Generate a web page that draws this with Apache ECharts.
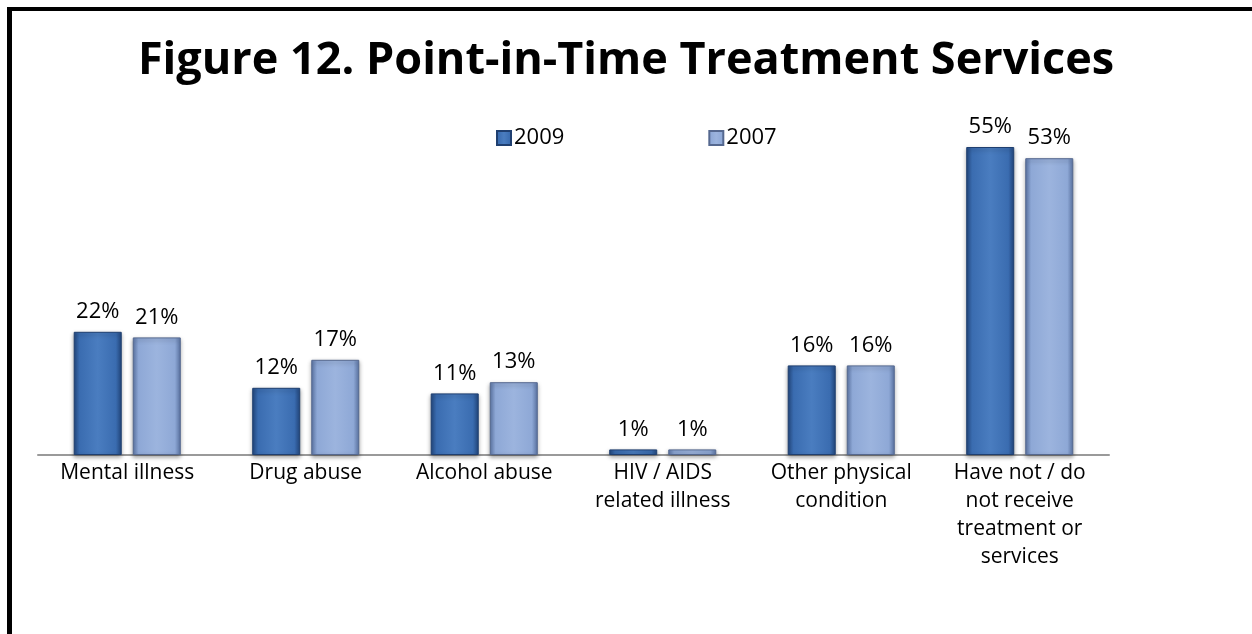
<!DOCTYPE html>
<html>
<head>
<meta charset="utf-8">
<script src="https://cdn.jsdelivr.net/npm/echarts@6/dist/echarts.min.js"></script>
<style>
  html, body { margin: 0; padding: 0; background: #fff; }
  #chart { width: 1252px; height: 634px; }
</style>
</head>
<body>
<div id="chart"></div>
<script>
// Treatment categories (line breaks follow the wrapped axis labels)
const categories = [
  'Mental illness',
  'Drug abuse',
  'Alcohol abuse',
  'HIV / AIDS\nrelated illness',
  'Other physical\ncondition',
  'Have not / do\nnot receive\ntreatment or\nservices'
];
// Percent of respondents per year
const values2009 = [22, 12, 11, 1, 16, 55];
const values2007 = [21, 17, 13, 1, 16, 53];
const seriesNames = ['2009', '2007'];

const FONT = '"Open Sans", Lato, sans-serif';

// Bevel-like shading: darker sides, lighter body
function bevel(edge, body, light) {
  return new echarts.graphic.LinearGradient(0, 0, 1, 0, [
    { offset: 0, color: edge },
    { offset: 0.12, color: body },
    { offset: 0.5, color: light },
    { offset: 0.88, color: body },
    { offset: 1, color: edge }
  ]);
}

const fill2009 = bevel('#23487f', '#3a6cb0', '#4a7dc0');
const fill2007 = bevel('#5d77a8', '#8ea8d6', '#9cb4de');

const chart = echarts.init(document.getElementById('chart'), null, { renderer: 'canvas' });

const labelStyle = {
  show: true,
  position: 'top',
  distance: 9,
  formatter: '{c}%',
  fontFamily: FONT,
  fontSize: 22,
  color: '#000'
};

chart.setOption({
  animation: false,
  backgroundColor: '#fff',
  title: {
    text: 'Figure 12. Point-in-Time Treatment Services',
    left: 'center',
    top: 34,
    textStyle: { fontFamily: FONT, fontWeight: 'bold', fontSize: 45, color: '#000' }
  },
  legend: {
    data: [
      { name: seriesNames[0], itemStyle: { color: fill2009 } },
      { name: seriesNames[1], itemStyle: { color: fill2007 } }
    ],
    top: 122,
    left: 491,
    itemWidth: 14,
    itemHeight: 14,
    itemGap: 144,
    icon: 'rect',
    textStyle: { fontFamily: FONT, fontSize: 22, color: '#000', padding: [0, 0, 0, -2] }
  },
  grid: { left: 38, right: 143, top: 147, bottom: 179, containLabel: false },
  xAxis: {
    type: 'category',
    data: categories,
    axisLine: { lineStyle: { color: '#9a9a9a', width: 2 } },
    axisTick: { show: false },
    axisLabel: {
      fontFamily: FONT,
      fontSize: 21,
      color: '#000',
      lineHeight: 28,
      margin: 4,
      interval: 0
    }
  },
  yAxis: {
    type: 'value',
    min: 0,
    max: 55,
    show: false,
    splitLine: { show: false }
  },
  series: [
    {
      name: seriesNames[0],
      type: 'bar',
      data: values2009,
      barWidth: 48,
      barGap: '23%',
      itemStyle: {
        color: fill2009,
        borderColor: '#1f3f70',
        borderWidth: 1,
        shadowColor: 'rgba(0,0,0,0.35)',
        shadowBlur: 4,
        shadowOffsetY: 2
      },
      label: labelStyle
    },
    {
      name: seriesNames[1],
      type: 'bar',
      data: values2007,
      barWidth: 48,
      itemStyle: {
        color: fill2007,
        borderColor: '#55688f',
        borderWidth: 1,
        shadowColor: 'rgba(0,0,0,0.35)',
        shadowBlur: 4,
        shadowOffsetY: 2
      },
      label: labelStyle
    }
  ],
  graphic: [
    { type: 'rect', shape: { x: 7, y: 7, width: 1245, height: 4 }, style: { fill: '#000' }, z: 100 },
    { type: 'rect', shape: { x: 7, y: 7, width: 5, height: 627 }, style: { fill: '#000' }, z: 100 }
  ]
});
</script>
</body>
</html>
